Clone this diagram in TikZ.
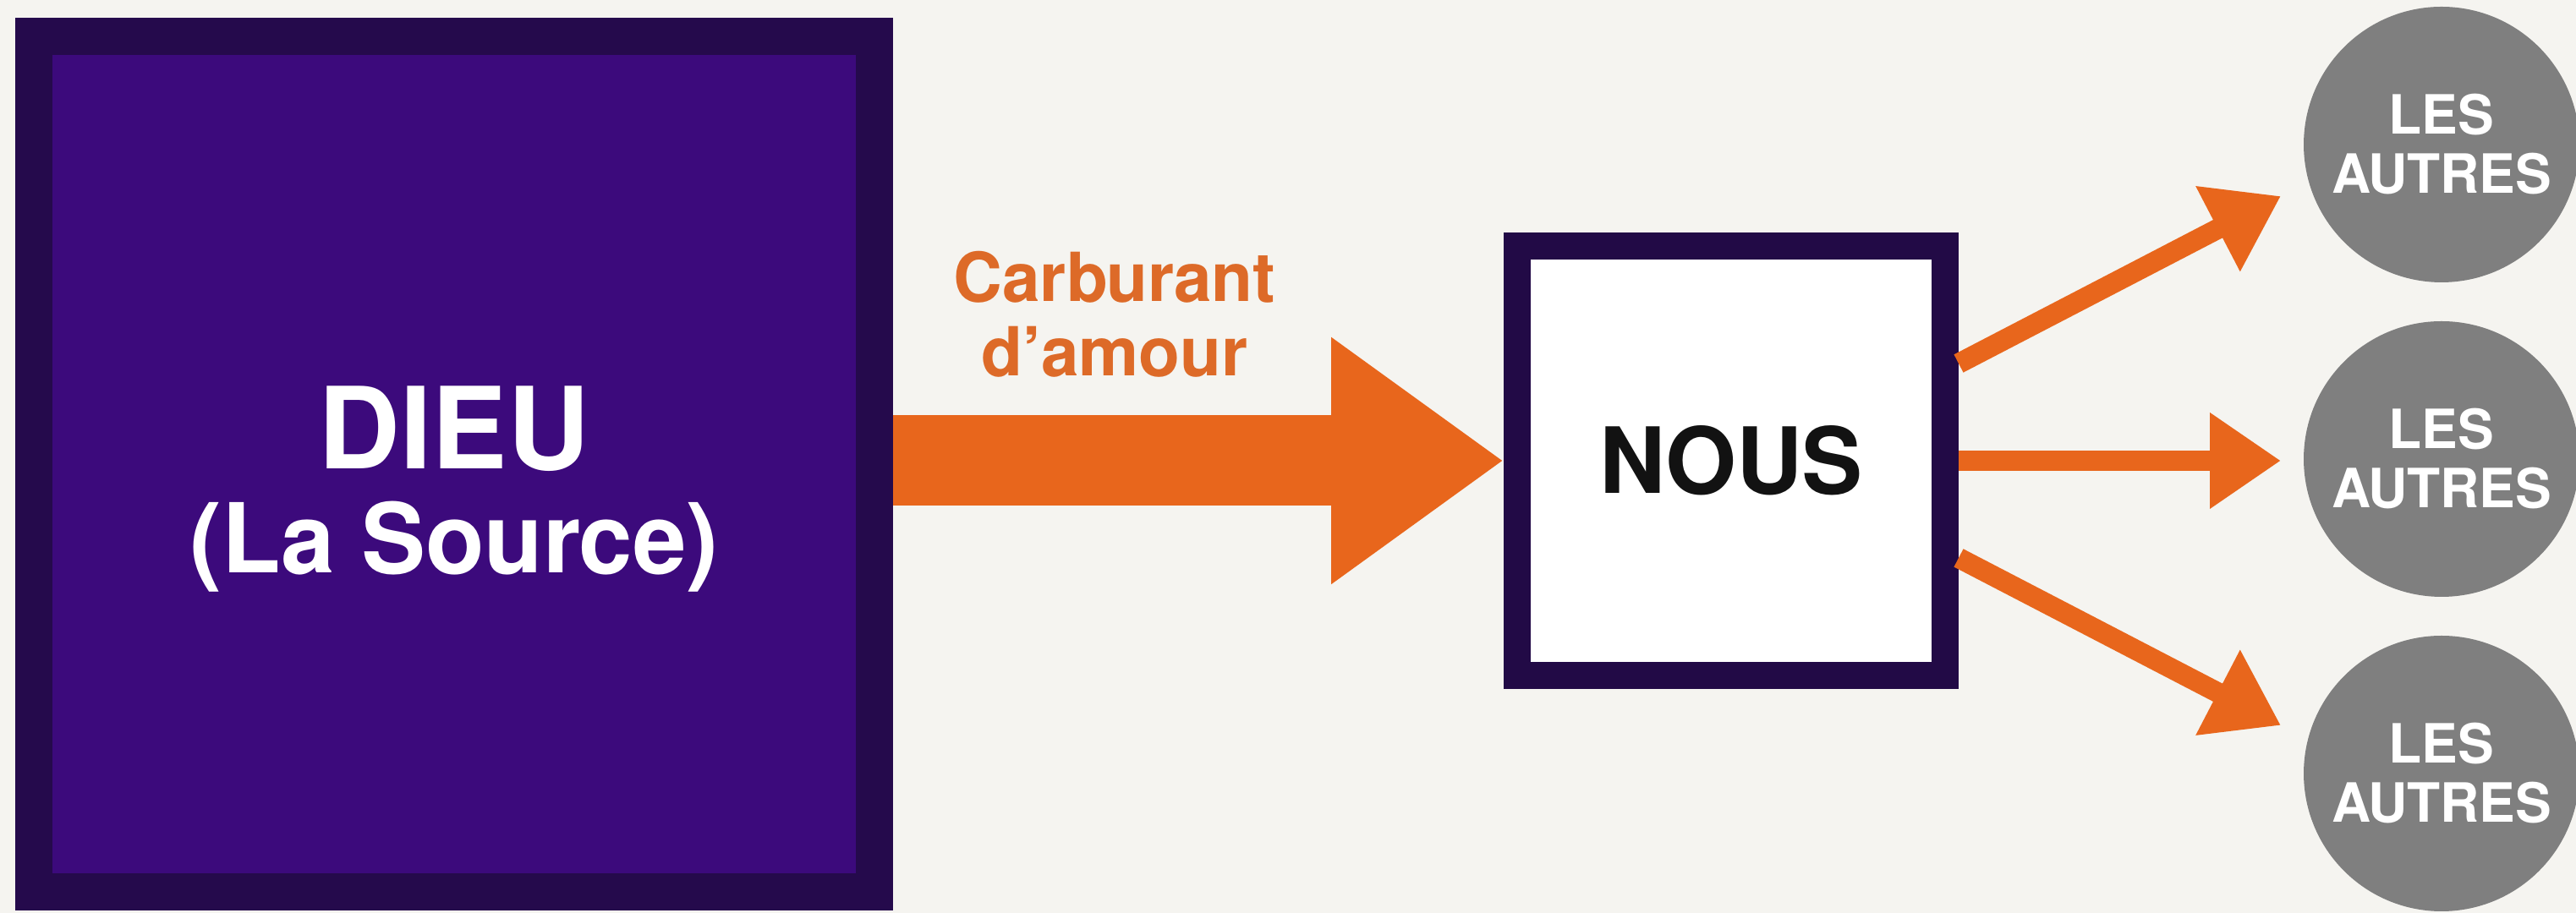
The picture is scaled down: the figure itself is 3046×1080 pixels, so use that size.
\documentclass[tikz,border=0pt]{standalone}
\usepackage[T1]{fontenc}
\usepackage{helvet}
\renewcommand{\familydefault}{\sfdefault}
\usetikzlibrary{arrows.meta}
\definecolor{bgc}{HTML}{F5F4F0}
\definecolor{purpdark}{HTML}{250A4C}
\definecolor{purpfill}{HTML}{3C0A7C}
\definecolor{nousborder}{HTML}{220A46}
\definecolor{orng}{HTML}{E8661C}
\definecolor{orngtxt}{HTML}{DD6A28}
\definecolor{greyc}{HTML}{7F7F7F}
\tikzset{
  srcbox/.style={draw=purpdark, fill=purpfill, line width=4.4pt, inner sep=0pt},
  usbox/.style={draw=nousborder, fill=white, line width=3.2pt, inner sep=0pt,
    text=black!93, font=\fontsize{10.8}{11.6}\selectfont\bfseries},
  othercircle/.style={circle, fill=greyc, minimum size=32.6pt, inner sep=0pt,
    text=white, align=center, font=\fontsize{6.4}{7.0}\selectfont\bfseries},
  bigarrow/.style={orng, line width=10.7pt, -{Triangle[length=20.4pt,width=27.8pt]}},
  smallarrow/.style={orng, line width=2.4pt, -{Triangle[length=8.4pt,width=10.8pt]}},
}
\begin{document}
\begin{tikzpicture}[x=0.1pt,y=-0.1pt]
\fill[bgc] (0,0) rectangle (3046,1080);
\useasboundingbox (0,0) rectangle (3046,1080);

% DIEU box
\node[srcbox, minimum width=99.4pt, minimum height=101.2pt] (dieu) at (537,549) {};
\node[anchor=base, text=white, font=\fontsize{13.4}{14}\selectfont\bfseries] (dieuA) at (537,555) {DIEU};
\node[anchor=base, text=white, font=\fontsize{11.4}{12}\selectfont\bfseries] (dieuB) at (537,678) {(La Source)};

% NOUS box
\node[usbox, minimum width=50.6pt, minimum height=50.8pt] (nous) at (2047,545) {NOUS};

% label
\node[text=orngtxt, align=center, font=\fontsize{8}{8.8}\selectfont\bfseries] (fuel) at (1318,372) {Carburant\\d'amour};

% big arrow
\draw[bigarrow] (dieu.east |- nous.west) -- (nous.west);

% circles
\node[othercircle] (c1) at (2887,171) {LES\\AUTRES};
\node[othercircle] (c2) at (2887,543) {LES\\AUTRES};
\node[othercircle] (c3) at (2887,915) {LES\\AUTRES};

% small arrows
\coordinate (t1) at (2697,232);
\coordinate (t2) at (2697,545);
\coordinate (t3) at (2697,858);
\draw[smallarrow] ([yshift=11.5pt]nous.east) -- (t1);
\draw[smallarrow] (nous.east) -- (t2);
\draw[smallarrow] ([yshift=-11.5pt]nous.east) -- (t3);
\end{tikzpicture}
\end{document}
